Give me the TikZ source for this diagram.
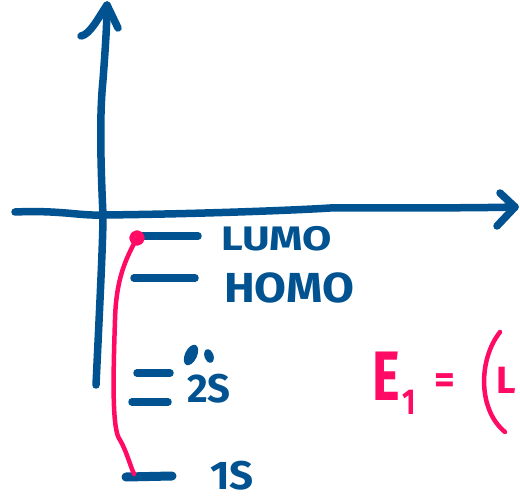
\documentclass[tikz,border=0pt]{standalone}
\usepackage{fontspec}
\setmainfont{Fira Sans}
\definecolor{inkblue}{HTML}{005290}
\definecolor{inkred}{HTML}{FF0A64}
\begin{document}
\begin{tikzpicture}[x=1pt,y=-1pt,
  blueline/.style={draw=inkblue,line width=7.5pt,line cap=round,line join=round},
  redline/.style={draw=inkred,line width=4.5pt,line cap=round,line join=round},
  lbl/.style={text=inkblue,font=\bfseries\fontsize{34}{34}\selectfont,inner sep=0pt},
  rlbl/.style={text=inkred,font=\bfseries\fontsize{70}{70}\selectfont,inner sep=0pt}]
\useasboundingbox (0,0) rectangle (520,500);
% axes
\coordinate (ytop) at (107,5);
\coordinate (ybot) at (96,385);
\coordinate (xleft) at (15,212);
\coordinate (xright) at (515,207);
\draw[blueline] (ybot) .. controls (100,300) and (103,240) .. (103,215)
  .. controls (100,150) and (100,110) .. (103,80) .. controls (106,40) and (107,20) .. (ytop);
\draw[blueline] (81,36) .. controls (90,35) and (100,15) .. (ytop) -- (118,28);
\draw[blueline] (xleft) .. controls (60,210) and (80,216) .. (103,215)
  .. controls (200,214) and (300,210) .. (330,208) .. controls (400,208) and (480,208) .. (xright);
\draw[blueline] (500,193) -- (xright) -- (497,226);
% levels
\coordinate (lumoA) at (140,236); \coordinate (lumoB) at (198,236);
\coordinate (homoA) at (134,278); \coordinate (homoB) at (195,278);
\coordinate (s2aA) at (137,373); \coordinate (s2aB) at (170,373);
\coordinate (s2bA) at (132,402); \coordinate (s2bB) at (168,402);
\coordinate (s1A) at (126,477); \coordinate (s1B) at (172,476);
\draw[blueline] (lumoA) -- (lumoB);
\draw[blueline] (homoA) -- (homoB);
\draw[blueline] (s2aA) -- (s2aB);
\draw[blueline] (s2bA) -- (s2bB);
\draw[blueline,line width=9pt] (s1A) -- (s1B);
% labels
\node[lbl,anchor=west,xscale=1.25] (lumo) at (221,239) {LUMO};
\node[lbl,anchor=west,xscale=1.1,font=\bfseries\fontsize{42}{42}\selectfont] (homo) at (224,288) {HOMO};
\node[lbl,anchor=west,xscale=1.0,font=\bfseries\fontsize{40}{40}\selectfont] (s2) at (187,389) {2S};
\fill[inkblue,rotate around={-25:(191,355)}] (191,355) ellipse (6pt and 11pt);
\fill[inkblue,rotate around={20:(209,356)}] (209,356) ellipse (4.5pt and 7pt);
\node[lbl,anchor=west,xscale=1.05,font=\bfseries\fontsize{40}{40}\selectfont] (s1) at (210,476) {1S};
% red transition curve
\coordinate (rtop) at (137,238);
\coordinate (rbot) at (134,474);
\draw[redline,line width=5.5pt] (rtop) circle (5pt);
\draw[redline] (rtop) .. controls (125,260) and (116,280) .. (115,320)
  .. controls (113,380) and (112,430) .. (120,440) .. controls (126,450) and (130,465) .. (rbot);
% E1 = (L
\node[rlbl,anchor=west,xscale=0.75] (e) at (372,376) {E};
\node[rlbl,anchor=west,font=\bfseries\fontsize{36}{36}\selectfont,xscale=0.8] (one) at (402,402) {1};
\node[rlbl,anchor=west,font=\bfseries\fontsize{40}{40}\selectfont] (eq) at (434,384) {=};
\draw[redline] (500,332) .. controls (478,360) and (478,410) .. (505,432);
\node[rlbl,anchor=west,font=\bfseries\fontsize{38}{38}\selectfont] (L) at (496,380) {L};
\end{tikzpicture}
\end{document}
